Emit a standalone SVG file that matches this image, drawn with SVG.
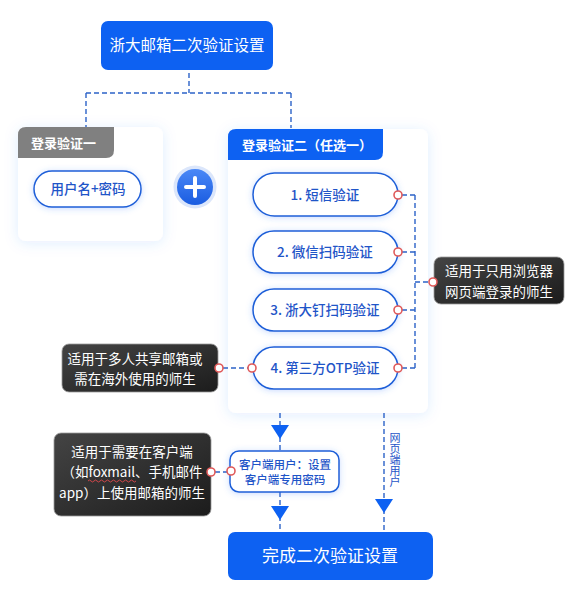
<svg xmlns="http://www.w3.org/2000/svg" width="582" height="598" viewBox="0 0 582 598">
<style>
text{font-family:"Noto Sans CJK SC","Noto Sans",sans-serif}
.blue{fill:#0d61f2}
.wt{fill:#fff}
.pill{fill:#fff;stroke:#1f5fd8;stroke-width:1.5;filter:url(#glow)}
.pt{fill:#1f55c8;font-size:13.5px;text-anchor:middle;font-weight:500}
.note{fill:url(#dark);stroke:#9a9a9a;stroke-width:0.8}
.nt{fill:#fff;font-size:13.5px;text-anchor:middle}
.dash{fill:none;stroke:#2c63c8;stroke-width:1.4;stroke-dasharray:5 3}
.dot{fill:#fff;stroke:#e05a5a;stroke-width:1.6}
.tri{fill:#0d61f2}
.panel{fill:#fff;filter:url(#soft)}
</style>
<defs>
<filter id="soft" x="-30%" y="-30%" width="160%" height="160%"><feDropShadow dx="0" dy="2" stdDeviation="7" flood-color="#3a72ff" flood-opacity="0.13"/></filter>
<filter id="glow" x="-20%" y="-40%" width="140%" height="180%"><feDropShadow dx="0" dy="1" stdDeviation="3" flood-color="#3d7bff" flood-opacity="0.28"/></filter>
<linearGradient id="dark" x1="0" y1="0" x2="1" y2="1"><stop offset="0" stop-color="#444"/><stop offset="1" stop-color="#1c1c1c"/></linearGradient>
<linearGradient id="plus" x1="0" y1="0" x2="0" y2="1"><stop offset="0" stop-color="#4a88f7"/><stop offset="1" stop-color="#1a5ce0"/></linearGradient>
</defs>
<rect width="582" height="598" fill="#fff"/>

<g id="panel1">
<rect x="18" y="127" width="145" height="114" rx="8" class="panel"/>
<path d="M18,135 Q18,127 26,127 L114,127 L114,150 Q114,158 106,158 L18,158 Z" fill="#808080"/>
<text x="31" y="148" class="wt" font-size="13" font-weight="bold">登录验证一</text>
</g>

<g id="panel2">
<rect x="228" y="129" width="200" height="284" rx="8" class="panel"/>
<path d="M228,137 Q228,129 236,129 L383,129 L383,152 Q383,160 375,160 L228,160 Z" class="blue"/>
<text x="242" y="150" class="wt" font-size="13" font-weight="bold">登录验证二（任选一）</text>
</g>

<g id="connectors">
<path class="dash" d="M189,73 V93 M86,93 H291 M86,93 V127 M291,93 V128"/>
<path class="dash" d="M402,195 H415 M402,252 H415 M402,310 H415 M402,368 H415 M415,195 V368 M415,282 H429"/>
<path class="dash" d="M223,368 H248"/>
<path class="dash" d="M215,472 H227"/>
<path class="dash" d="M280,413 V451 M280,492 V532 M384,413 V532"/>
<polygon class="tri" points="271,425 289,425 280,439"/>
<polygon class="tri" points="271,506 289,506 280,520"/>
<polygon class="tri" points="375,499 393,499 384,513"/>
<text x="395" y="432" font-size="11" fill="#1f55c8" style="writing-mode:vertical-rl" letter-spacing="0">网页端用户</text>
</g>

<g id="top">
<rect x="101" y="21" width="172" height="49" rx="7" class="blue"/>
<text x="187" y="51" class="wt" font-size="15.5" text-anchor="middle">浙大邮箱二次验证设置</text>
</g>

<g id="pill-pwd">
<rect x="34" y="171" width="107" height="36" rx="18" class="pill"/>
<text x="88" y="194" class="pt">用户名+密码</text>
</g>

<g id="plus">
<circle cx="195" cy="187" r="21.5" fill="#dbe6fb"/>
<circle cx="195" cy="187" r="18" fill="url(#plus)"/>
<path d="M186,187 H204 M195,178 V196" stroke="#fff" stroke-width="4" stroke-linecap="round"/>
</g>

<g id="opt1">
<rect x="253" y="173" width="145" height="43" rx="21.5" class="pill"/>
<text x="325" y="199.5" class="pt">1. 短信验证</text>
<circle cx="398" cy="195" r="4" class="dot"/>
</g>
<g id="opt2">
<rect x="253" y="231" width="145" height="42" rx="21" class="pill"/>
<text x="325" y="257" class="pt">2. 微信扫码验证</text>
<circle cx="398" cy="252" r="4" class="dot"/>
</g>
<g id="opt3">
<rect x="253" y="289" width="145" height="42" rx="21" class="pill"/>
<text x="325" y="315" class="pt">3. 浙大钉扫码验证</text>
<circle cx="398" cy="310" r="4" class="dot"/>
</g>
<g id="opt4">
<rect x="253" y="347" width="145" height="42" rx="21" class="pill"/>
<text x="325" y="373" class="pt">4. 第三方OTP验证</text>
<circle cx="398" cy="368" r="4" class="dot"/>
<circle cx="252" cy="368" r="4" class="dot"/>
</g>

<g id="note-browser">
<rect x="434" y="257" width="130" height="47" rx="7" class="note"/>
<text x="499" y="276" class="nt">适用于只用浏览器</text>
<text x="499" y="297" class="nt">网页端登录的师生</text>
<circle cx="433" cy="282" r="4" class="dot"/>
</g>

<g id="note-shared">
<rect x="62" y="344" width="156" height="48" rx="7" class="note"/>
<text x="135" y="364" class="nt">适用于多人共享邮箱或</text>
<text x="135" y="384" class="nt">需在海外使用的师生</text>
<circle cx="219" cy="368" r="4" class="dot"/>
</g>

<g id="client">
<rect x="230" y="451" width="109" height="41" rx="9" class="pill"/>
<text x="285" y="469" fill="#1f55c8" font-size="11.5" text-anchor="middle" font-weight="500">客户端用户：设置</text>
<text x="285" y="484" fill="#1f55c8" font-size="11.5" text-anchor="middle" font-weight="500">客户端专用密码</text>
<circle cx="231" cy="471" r="4" class="dot"/>
</g>

<g id="note-client">
<rect x="54" y="433" width="157" height="83" rx="7" class="note"/>
<text x="132" y="457" class="nt">适用于需要在客户端</text>
<text x="132" y="477" class="nt">（如foxmail、手机邮件</text>
<text x="132" y="498" class="nt">app）上使用邮箱的师生</text>
<path d="M88,481 q1.5,-2 3,0 t3,0 t3,0 t3,0 t3,0 t3,0 t3,0 t3,0 t3,0 t3,0 t3,0 t3,0 t3,0 t3,0 t3,0 t3,0" fill="none" stroke="#e0474c" stroke-width="0.9"/>
<circle cx="211" cy="472" r="4" class="dot"/>
</g>

<g id="done">
<rect x="228" y="532" width="205" height="48" rx="7" class="blue"/>
<text x="330" y="562" class="wt" font-size="17" text-anchor="middle">完成二次验证设置</text>
</g>
</svg>
